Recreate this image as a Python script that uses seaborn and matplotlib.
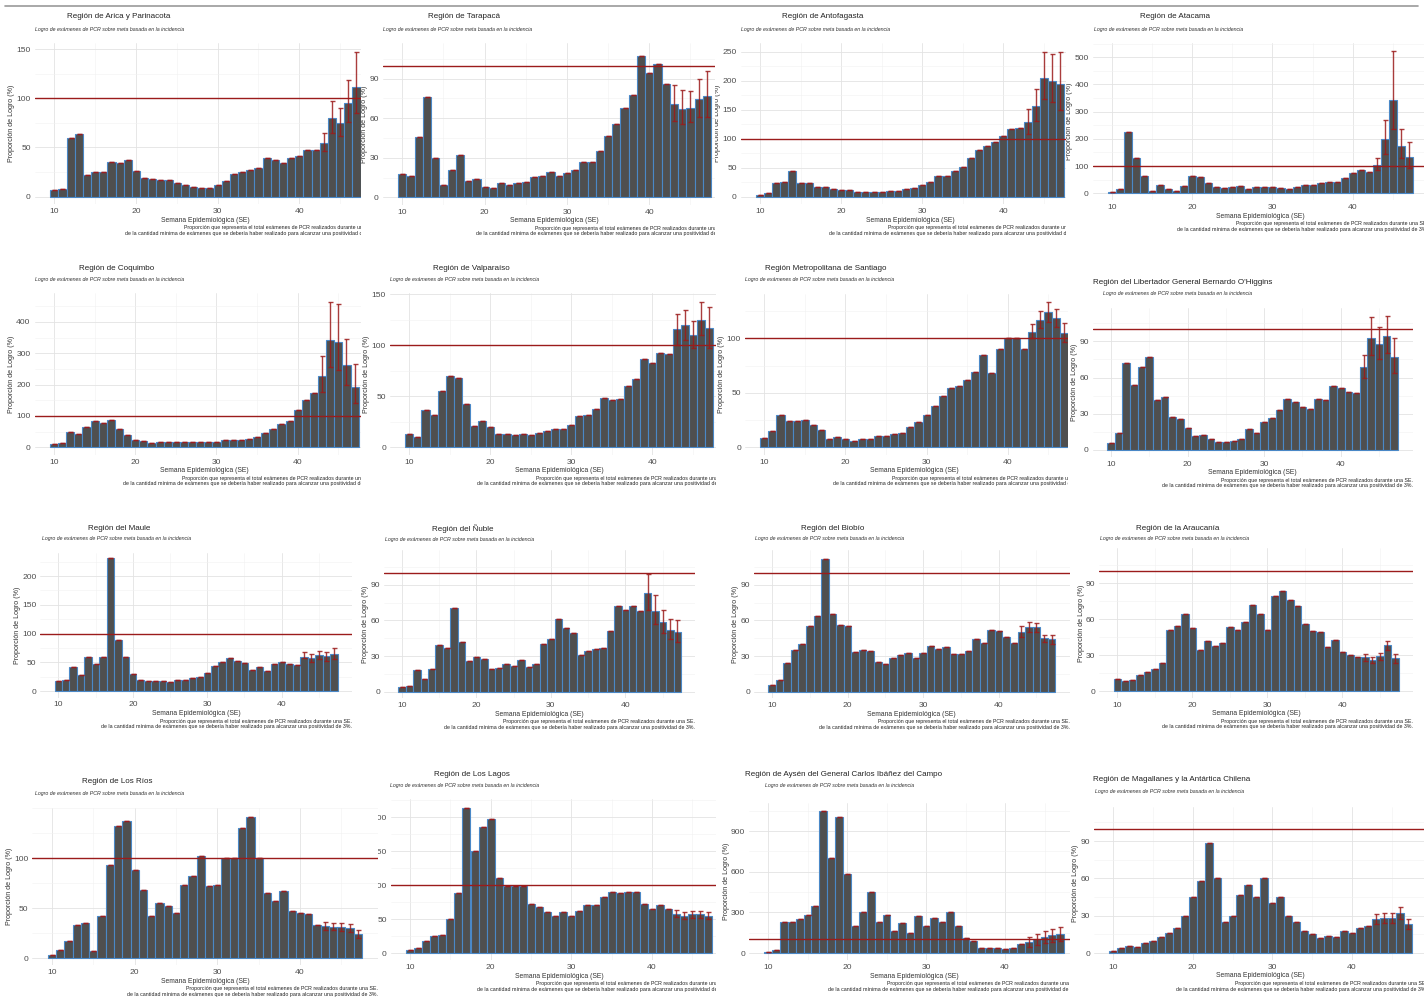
import matplotlib
matplotlib.use("Agg")
import matplotlib.pyplot as plt
import numpy as np
import seaborn as sns
from matplotlib.lines import Line2D
from matplotlib.ticker import MultipleLocator
from matplotlib.transforms import Bbox, TransformedBbox, offset_copy

W, H = 1424, 1005

WEEKS = np.arange(10, 48)
ERR_WEEKS = np.arange(43, 48)
META = 100

SUBTITLE = "Logro de exámenes de PCR sobre meta basada en la incidencia"
XLABEL = "Semana Epidemiológica (SE)"
YLABEL = "Proporción de Logro (%)"
CAPTION = ("Proporción que representa el total exámenes de PCR realizados durante una SE.\n"
           "de la cantidad mínima de exámenes que se debería haber realizado para alcanzar una positividad de 3%.")

titles = [
    "Región de Arica y Parinacota", "Región de Tarapacá", "Región de Antofagasta", "Región de Atacama",
    "Región de Coquimbo", "Región de Valparaíso", "Región Metropolitana de Santiago",
    "Región del Libertador General Bernardo O'Higgins",
    "Región del Maule", "Región del Ñuble", "Región del Biobío", "Región de la Araucanía",
    "Región de Los Ríos", "Región de Los Lagos", "Región de Aysén del General Carlos Ibáñez del Campo",
    "Región de Magallanes y la Antártica Chilena",
]

arica = [7, 8, 60, 64, 22, 25, 25, 35, 34, 37, 26, 19, 18, 17, 17, 14, 12, 10, 9, 9,
         12, 16, 23, 25, 27, 29, 39, 37, 34, 39, 41, 47, 47, 55, 80, 75, 95, 111]
tarapaca = [17.7, 16.5, 46, 76, 30, 9, 21, 32, 12, 14, 8, 7, 10.6, 9, 11, 11.5, 15.5, 16, 19, 16,
            18.5, 21, 27, 27, 35, 46.5, 56, 68, 77.5, 107, 94, 101, 86, 71, 67, 68, 74.5, 76.5]
antofagasta = [3.5, 7, 24, 25, 44, 23, 23, 16, 16, 14, 11.5, 11.5, 7.5, 7.5, 7.5, 7.5, 10, 10, 14, 15,
               21, 25, 35.6, 35.6, 45, 50.5, 67, 80, 88, 94, 105, 117, 119, 129, 156, 204, 200, 194]
atacama = [4, 17, 224, 130, 64, 10, 30, 15, 10, 28, 64, 59, 37, 22, 20, 23, 28, 17, 22, 22,
           22, 20, 17, 24, 29, 32, 37, 41, 41, 57, 74, 87, 78, 104, 198, 343, 174, 133]
coquimbo = [10, 13, 50, 43, 64, 85, 76, 88, 60, 40, 24, 21, 14, 17, 18, 18, 17, 16, 16, 16,
            17, 23, 23, 23, 26, 34, 45, 58, 73, 85, 119, 152, 174, 227, 343, 335, 262, 194]
valparaiso = [13, 10.5, 37, 32, 55, 70, 68, 42, 21, 26, 20, 13.5, 13.5, 12, 13.5, 12.5, 14, 15.5, 18, 18,
              21.5, 30.5, 31.5, 37.5, 48, 46, 47, 60, 67, 87, 83, 92, 91, 116, 120, 110, 125, 117]
santiago = [8.5, 14.7, 30, 24, 24.5, 25.5, 20, 16, 7.5, 9, 7.5, 6, 7.5, 8, 10, 10.5, 12, 13, 19, 23.5,
            29.7, 38, 47, 54, 56, 62, 69, 85, 68.5, 90, 100, 100, 90, 106, 117, 124.5, 119, 105]
ohiggins = [6, 14, 72, 54, 68.6, 77.4, 41.6, 43.8, 27.5, 25.3, 18, 11.3, 12.4, 9.4, 6.6, 6.6, 7.7, 9, 17, 14.3,
            22.9, 26.4, 33, 42, 39.4, 36, 34, 42, 41.6, 52.6, 51, 48, 47.4, 69, 93, 87.6, 94.5, 77]
maule = [17, 18.5, 41.7, 28.4, 60, 47.5, 60, 231, 88, 60, 29, 18.5, 17.4, 17.4, 17.4, 16, 19, 19, 23, 24.3,
         31, 44, 50, 58, 53, 48, 36, 41, 35, 47.5, 50.4, 47.5, 46, 60, 57, 62.6, 61.4, 65]
nuble = [3.6, 4.8, 18, 11, 19, 39.5, 36.7, 70, 42, 26, 29, 27.7, 18.8, 20, 23, 22, 27, 20.7, 23, 40,
         44.5, 61.3, 53.8, 49.6, 30.5, 34.5, 35.6, 37, 50.7, 72.3, 69, 71.7, 68, 83, 68, 58.3, 51.8, 50]
biobio = [6, 9.5, 24.4, 35, 40, 55.6, 64, 111.5, 65.7, 56.5, 55, 33, 35, 34.6, 25, 23, 28, 31, 32.3, 28,
          32.6, 38.8, 35.7, 37.6, 31.5, 31.5, 34.6, 44.7, 41.3, 52.2, 51, 46, 41.3, 50.6, 54.5, 54.5, 45, 44]
araucania = [10.3, 8.7, 9, 13.4, 16, 18.7, 23, 51, 54.5, 64.5, 52.5, 34, 42, 37.7, 39.7, 53.6, 51, 57.3, 72, 64.2,
             51, 79.3, 83.5, 76.3, 70.7, 56, 50, 49, 37, 42.4, 32.4, 30, 28.2, 28.2, 26, 29.3, 38.3, 27.6]
los_rios = [3, 8, 17, 33, 35, 7, 42, 93, 132, 137, 88, 68, 42, 55, 52, 45, 73, 82, 102, 72,
            73, 100, 100, 130, 141, 100, 65, 57, 67, 47, 45, 44, 33, 32, 31, 31, 30, 24]
los_lagos = [5, 8, 17, 25, 27, 50, 88, 213, 150, 185, 197, 110, 98, 98, 98, 72, 68, 60, 55, 60,
             55, 62, 70, 70, 83, 90, 88, 90, 90, 72, 65, 70, 65, 58, 55, 57, 57, 55]
aysen = [10, 20, 230, 230, 250, 280, 350, 1050, 700, 1000, 580, 200, 300, 450, 230, 280, 160, 220, 150, 270,
         200, 260, 230, 300, 200, 110, 90, 40, 40, 35, 30, 40, 70, 80, 100, 120, 130, 140]
magallanes = [2, 4, 6, 5, 8, 10, 13, 16, 20, 30, 45, 58, 88, 60, 25, 30, 47, 55, 45, 60,
              40, 45, 30, 25, 18, 15, 12, 14, 13, 18, 16, 20, 22, 27, 28, 28, 32, 23]

values = [arica, tarapaca, antofagasta, atacama, coquimbo, valparaiso, santiago, ohiggins,
          maule, nuble, biobio, araucania, los_rios, los_lagos, aysen, magallanes]

# intervalo de las ultimas 5 semanas (SE 43-47)
err_lo = [
    [46, 65, 62, 76, 85], [58, 56, 57.5, 61, 61], [108, 130, 168, 164, 150], [85, 145, 235, 128, 92],
    [178, 255, 248, 200, 140], [100, 105, 97, 110, 97], [100, 109, 115, 110, 97], [60, 79, 75, 80, 64],
    [58, 50, 55, 53, 55], [69, 57, 49, 44, 42], [46, 50, 50, 42, 40], [25, 23, 26, 34, 23],
    [28, 28, 27, 26, 20], [53, 50, 52, 52, 50], [45, 60, 75, 80, 90], [23, 24, 24, 27, 19],
]
err_hi = [
    [65, 97, 90, 119, 147], [85, 81.5, 81, 89.5, 96], [152, 185, 250, 246, 250], [130, 270, 525, 238, 190],
    [293, 465, 458, 347, 265], [131, 135, 124, 142, 138], [113, 125, 133, 127, 114], [79, 110, 102, 111, 93],
    [68, 65, 70, 68, 75], [99, 81, 69, 61, 60], [55, 59, 58, 48, 48], [31, 28, 32, 42, 31],
    [36, 35, 35, 34, 28], [63, 60, 62, 62, 60], [115, 140, 165, 180, 190], [31, 32, 32, 37, 27],
]

# layout in screenshot pixels: x of SE10, x of SE40, y of 0, (tick value, tick y), tick step, y max
AXES = [
    (54.3, 299.3, 196.7, 150, 49, 50, 156), (402.3, 649.3, 197.3, 90, 78.7, 30, 116.8),
    (760, 1003.3, 196.7, 250, 51.7, 50, 264.5), (1112, 1352.7, 193.3, 500, 57.3, 100, 552),
    (54, 297.7, 447.3, 400, 322, 100, 491), (409.3, 652.3, 447.3, 150, 294.3, 50, 151),
    (764.3, 1007.7, 447.3, 100, 338.3, 50, 141), (1111, 1340.7, 450, 90, 341.3, 30, 117.3),
    (58.3, 281.7, 691, 200, 576, 50, 240), (402, 625.3, 691.7, 90, 584.7, 30, 119.5),
    (772, 998.7, 691.7, 90, 584.7, 30, 119.3), (1117.3, 1342.3, 691, 90, 583.3, 30, 119.3),
    (52, 300, 958, 100, 858, 50, 150), (410, 652, 953, 100, 885, 50, 226),
    (768, 1005, 953, 900, 831, 300, 1110), (1113, 1352, 953, 90, 841, 30, 117),
]
CROPS = [
    (0, 8, 361, 250), (361, 8, 715, 250), (715, 8, 1066, 250), (1066, 8, 1424, 250),
    (0, 250, 361, 505), (361, 250, 716, 505), (716, 250, 1068, 505), (1068, 250, 1424, 505),
    (0, 505, 360, 760), (360, 505, 716, 760), (716, 505, 1070, 760), (1070, 505, 1424, 760),
    (0, 760, 378, 1005), (378, 760, 716, 1005), (716, 760, 1070, 1005), (1070, 760, 1424, 1005),
]
# title x, title y, subtitle x, subtitle y
HEADS = [
    (67, 16, 35, 29), (428, 16, 383, 29), (782, 16, 741, 29), (1140, 16, 1094, 29),
    (79, 268, 35, 279), (433, 268, 390, 279), (765, 268, 745, 279), (1093, 283, 1103, 294),
    (88, 528, 42, 538), (432, 529, 385, 539), (801, 528, 755, 538), (1136, 528, 1100, 538),
    (82, 781, 35, 793), (434, 774, 390, 786), (745, 774, 765, 786), (1093, 779, 1095, 791),
]
XLIM = (7.6, 49.4)

BAR = "#4f4f4f"
EDGE = "#4a88c7"
RED = "#9b1b1b"
TXT = "#4d4d4d"

sns.set_theme(style="white")
plt.rcParams["font.family"] = ["Liberation Sans", "DejaVu Sans"]

fig = plt.figure(figsize=(W / 100, H / 100), dpi=100)


def fig_rect(l, t, r, b):
    return [l / W, 1 - b / H, (r - l) / W, (b - t) / H]


for i, vals in enumerate(values):
    vals = np.array(vals, dtype=float)
    x10, x40, y0, tv, ty, step, ytop = AXES[i]
    l, t, r, b = CROPS[i]
    ppw = (x40 - x10) / 30
    ppu = (y0 - ty) / tv
    ybot = -ytop / 21
    ax_l = x10 - (10 - XLIM[0]) * ppw
    ax_r = x10 + (XLIM[1] - 10) * ppw
    ax_t = y0 - ytop * ppu
    ax_b = y0 - ybot * ppu

    bb = TransformedBbox(Bbox.from_extents(l / W, 1 - b / H, r / W, 1 - t / H), fig.transFigure)

    bg = fig.add_axes(fig_rect(l, t, r, b), zorder=2 * i)
    bg.set_facecolor("white")
    bg.set_xticks([])
    bg.set_yticks([])
    for s in bg.spines.values():
        s.set_visible(False)

    ax = fig.add_axes(fig_rect(ax_l, ax_t, ax_r, ax_b), zorder=2 * i + 1)
    ax.set_facecolor("white")
    ax.set_axisbelow(True)

    sns.barplot(x=WEEKS, y=vals, native_scale=True, width=1.0, color=BAR, saturation=1,
                edgecolor=EDGE, linewidth=0.8, errorbar=None, ax=ax)

    lo = vals.copy()
    hi = vals.copy()
    lo[-len(ERR_WEEKS):] = err_lo[i]
    hi[-len(ERR_WEEKS):] = err_hi[i]
    ax.errorbar(WEEKS, vals, yerr=[vals - lo, hi - vals], fmt="none", ecolor=RED,
                elinewidth=1.0, capsize=1.8, capthick=1.0, alpha=0.85, zorder=3)
    ax.axhline(META, color=RED, lw=1.0, zorder=4)

    ax.set_xlim(*XLIM)
    ax.set_ylim(ybot, ytop)
    ax.set_xticks([10, 20, 30, 40])
    ax.xaxis.set_minor_locator(MultipleLocator(5))
    ax.set_yticks(np.arange(0, ytop, step))
    ax.yaxis.set_minor_locator(MultipleLocator(step / 2))
    ax.grid(which="major", color="#e3e3e3", lw=0.6)
    ax.grid(which="minor", color="#f1f1f1", lw=0.4)
    for s in ax.spines.values():
        s.set_visible(False)
    ax.tick_params(which="both", length=0, labelsize=6.1, labelcolor=TXT, pad=2.8)

    ax.set_xlabel(XLABEL, fontsize=4.9, color="#333333", labelpad=1.2)
    ax.set_ylabel(YLABEL, fontsize=5.1, color="#333333", labelpad=1.0)

    tx, tyy, sx, sy = HEADS[i]
    ax.text(tx / W, 1 - tyy / H, titles[i], transform=fig.transFigure, fontsize=5.8,
            color="#222222", ha="left", va="center")
    ax.text(sx / W, 1 - sy / H, SUBTITLE, transform=fig.transFigure, fontsize=3.8,
            style="italic", color="#333333", ha="left", va="center")
    ax.text(1, 0, CAPTION, transform=offset_copy(ax.transAxes, fig=fig, y=-21, units="dots"),
            fontsize=3.8, color="#222222", ha="right", va="top", linespacing=1.15)

    # recorte de la captura
    texts = [ax.xaxis.label, ax.yaxis.label] + ax.texts + ax.get_xticklabels() + ax.get_yticklabels()
    for txt in texts:
        txt.set_clip_path(None)
        txt.set_clip_box(bb)
        txt.set_clip_on(True)

fig.add_artist(Line2D([5 / W, 1418 / W], [1 - 6 / H, 1 - 6 / H], color="#9a9a9a", lw=1.2, zorder=100))

fig.savefig("out.png", dpi=100, facecolor="white")
